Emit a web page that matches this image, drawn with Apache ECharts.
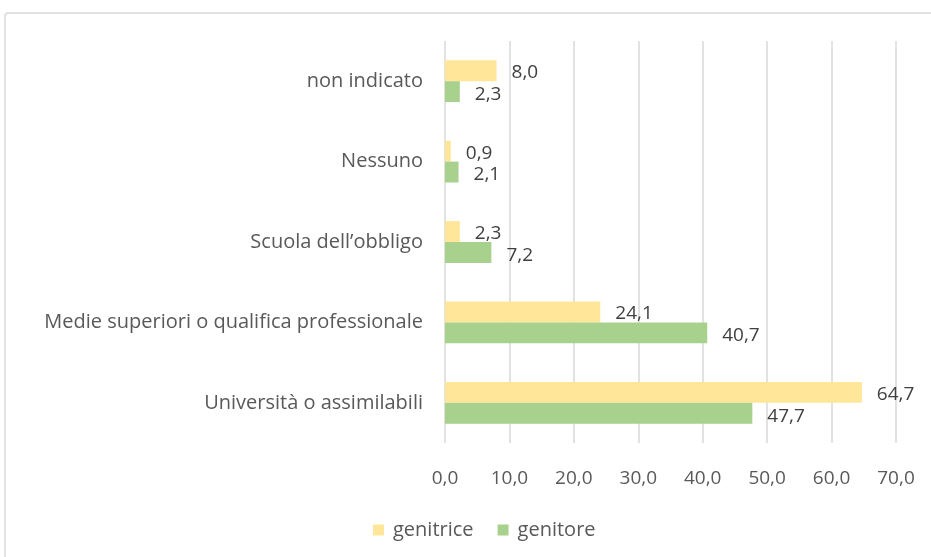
<!doctype html>
<html>
    <head>
        <meta charset="utf-8">
        <title>Titolo di studio</title>
        <style>
            html, body { margin: 0; padding: 0; background: #fff; }
            #main { width: 931px; height: 557px; }
        </style>
    </head>
    <body>
        <div id="main"></div>
        <script src="https://cdn.jsdelivr.net/npm/echarts@6/dist/echarts.min.js"></script>
        <script>
            var categories = ['Università o assimilabili', 'Medie superiori o qualifica professionale', 'Scuola dell\u2019obbligo', 'Nessuno', 'non indicato'];
            var genitrice = [64.7, 24.1, 2.3, 0.9, 8.0];
            var genitore = [47.7, 40.7, 7.2, 2.1, 2.3];
            var xTicks = [0, 10, 20, 30, 40, 50, 60, 70];

            var font = '"Open Sans", sans-serif';
            var fmt = function (v) { return v.toFixed(1).replace('.', ','); };

            var myChart = echarts.init(document.getElementById('main'));

            myChart.setOption({
                animation: false,
                textStyle: { fontFamily: font },
                graphic: [{
                    type: 'rect',
                    shape: { x: 5, y: 13, width: 1000, height: 700, r: 3 },
                    style: { fill: 'none', stroke: '#d9d9d9', lineWidth: 1.5 },
                    silent: true
                }],
                grid: { left: 445, right: 35, top: 41, bottom: 114 },
                legend: {
                    data: ['genitrice', 'genitore'],
                    bottom: 12,
                    left: 368,
                    itemWidth: 11,
                    itemHeight: 11,
                    itemGap: 24,
                    icon: 'rect',
                    textStyle: { fontSize: 20, color: '#595959', fontFamily: font, padding: [0, 0, 0, 4] }
                },
                xAxis: {
                    type: 'value',
                    min: xTicks[0],
                    max: xTicks[xTicks.length - 1],
                    interval: 10,
                    axisLine: { show: false },
                    axisTick: { show: false },
                    splitLine: { lineStyle: { color: '#d9d9d9', width: 1.5 } },
                    axisLabel: {
                        color: '#595959',
                        fontSize: 19,
                        margin: 26,
                        formatter: function (v) { return fmt(v); }
                    }
                },
                yAxis: {
                    type: 'category',
                    data: categories,
                    axisLine: { show: false },
                    axisTick: { show: false },
                    axisLabel: { color: '#595959', fontSize: 20, margin: 22 }
                },
                series: [{
                    name: 'genitrice',
                    type: 'bar',
                    data: genitrice,
                    barGap: '0%',
                    barCategoryGap: '48%',
                    itemStyle: { color: '#ffe699' },
                    label: {
                        show: true,
                        position: 'right',
                        distance: 15,
                        offset: [0, 2],
                        color: '#404040',
                        fontSize: 19,
                        formatter: function (p) { return fmt(p.value); }
                    }
                }, {
                    name: 'genitore',
                    type: 'bar',
                    data: genitore,
                    barGap: '0%',
                    barCategoryGap: '48%',
                    itemStyle: { color: '#a9d18e' },
                    label: {
                        show: true,
                        position: 'right',
                        distance: 15,
                        offset: [0, 3],
                        color: '#404040',
                        fontSize: 19,
                        formatter: function (p) { return fmt(p.value); }
                    }
                }]
            });
        </script>
    </body>
</html>
